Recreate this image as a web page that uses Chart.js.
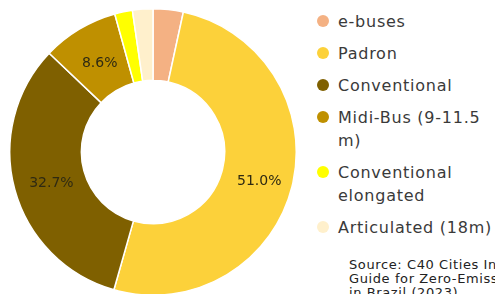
<!DOCTYPE html>
<html>
<head>
<meta charset="utf-8">
<script src="https://cdn.jsdelivr.net/npm/chart.js@4/dist/chart.umd.min.js"></script>
<style>
  html, body { margin: 0; padding: 0; background: #fff; overflow: hidden; width: 495px; height: 294px; }
  #wrap { position: relative; width: 495px; height: 294px; }
  #chart-box { position: absolute; left: 9px; top: 8px; width: 288px; height: 288px; }
  #legend { position: absolute; left: 317px; top: 10px; font-family: "DejaVu Sans", Verdana, sans-serif; font-size: 16px; letter-spacing: 0.75px; color: #3a3a3a; }
  .item { position: relative; padding-left: 21px; line-height: 23px; margin-bottom: 9px; white-space: nowrap; }
  .dot { position: absolute; left: 0; top: 5px; width: 12px; height: 12px; border-radius: 50%; }
  #source { position: absolute; left: 349px; top: 258px; font-family: "DejaVu Sans", sans-serif; font-size: 13px; letter-spacing: 0.6px; line-height: 14px; color: #222; white-space: nowrap; }
</style>
</head>
<body>
<div id="wrap">
  <div id="chart-box"><canvas id="bus-chart"></canvas></div>
  <div id="legend"></div>
  <div id="source">Source: C40 Cities Infrastructure<br>Guide for Zero-Emission Buses<br>in Brazil (2023)</div>
</div>
<script>
// fleet share by bus type (%)
const categories = ['e-buses', 'Padron', 'Conventional', 'Midi-Bus (9-11.5\nm)', 'Conventional\nelongated', 'Articulated (18m)'];
const shares = [3.4, 51.0, 32.7, 8.6, 2.0, 2.3];
const colors = ['#F4B183', '#FCD13A', '#7F6000', '#BF9000', '#FFFF00', '#FFF0CC'];

// draw the percentage on the bigger slices
const sliceLabels = {
    id: 'sliceLabels',
    afterDatasetsDraw(chart) {
        let ctx = chart.ctx;
        let meta = chart.getDatasetMeta(0);
        ctx.save();
        ctx.font = '14px "DejaVu Sans", Verdana, sans-serif';
        ctx.fillStyle = '#2f2a12';
        ctx.textAlign = 'center';
        ctx.textBaseline = 'middle';
        meta.data.forEach((arc, i) => {
            if (shares[i] < 5) return;
            let p = arc.tooltipPosition();
            ctx.fillText(shares[i].toFixed(1) + '%', p.x + 2, p.y + 3);
        });
        ctx.restore();
    }
};

let ctx = document.getElementById('bus-chart').getContext('2d');
new Chart(ctx, {
    type: 'doughnut',
    data: {
        labels: categories,
        datasets: [{
            data: shares,
            backgroundColor: colors,
            borderColor: '#ffffff',
            borderWidth: 1.5
        }]
    },
    options: {
        responsive: true,
        maintainAspectRatio: false,
        animation: false,
        cutout: '50%',
        plugins: {
            legend: { display: false },
            tooltip: { enabled: false }
        }
    },
    plugins: [sliceLabels]
});

// html legend so long names can wrap like the original
let legendDiv = document.getElementById('legend');
categories.forEach((name, i) => {
    let item = document.createElement('div');
    item.className = 'item';
    item.innerHTML = `<span class="dot" style="background:${colors[i]}"></span>${name.replace('\n', '<br>')}`;
    legendDiv.appendChild(item);
});
</script>
</body>
</html>
